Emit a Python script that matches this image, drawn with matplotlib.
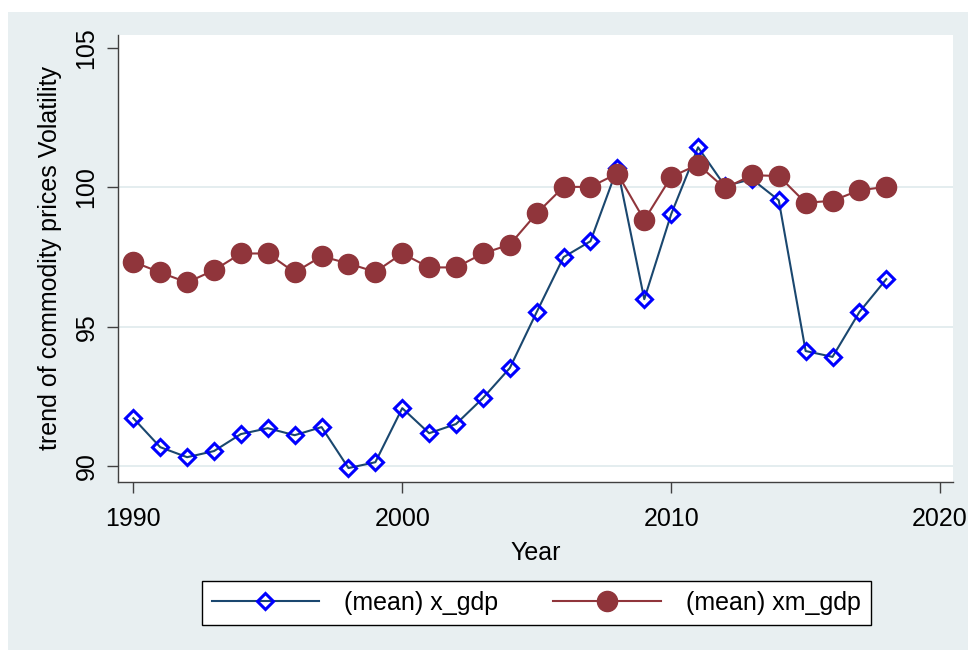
import matplotlib
matplotlib.use("Agg")
import matplotlib.pyplot as plt
from matplotlib.patches import Rectangle
from matplotlib.lines import Line2D

plt.rcParams['font.family'] = ['Liberation Sans', 'DejaVu Sans']

years = list(range(1990, 2019))
x_gdp = [91.72, 90.68, 90.32, 90.54, 91.15, 91.36, 91.11, 91.40, 89.93, 90.14,
         92.08, 91.18, 91.51, 92.44, 93.52, 95.53, 97.50, 98.07, 100.70, 95.99,
         99.04, 101.44, 100.05, 100.30, 99.54, 94.13, 93.92, 95.53, 96.71]
xm_gdp = [97.33, 96.95, 96.59, 97.03, 97.63, 97.63, 96.95, 97.53, 97.27, 96.97,
          97.63, 97.13, 97.13, 97.63, 97.95, 99.07, 100.02, 100.02, 100.50, 98.83,
          100.38, 100.82, 99.97, 100.44, 100.41, 99.45, 99.52, 99.90, 100.02]
labels = ["(mean) x_gdp", "(mean) xm_gdp"]
xticks = [1990, 2000, 2010, 2020]
yticks = [90, 95, 100, 105]
gridvals = [90, 95, 100]

W, H = 968, 650
fig = plt.figure(figsize=(W / 100, H / 100), dpi=100, facecolor='white')
bg = '#E8EFF1'
fig.patches.append(Rectangle((8 / W, 0), (W - 8) / W, (H - 12) / H,
                             transform=fig.transFigure, facecolor=bg,
                             edgecolor='none', zorder=-10))

ax = fig.add_axes([118 / W, 1 - 482 / H, (953 - 118) / W, (482 - 35) / H])
ax.set_facecolor('white')

navy = '#1A476F'
blue = '#0000FF'
maroon = '#90353B'

for g in gridvals:
    ax.axhline(g, color='#E4EDEF', lw=1.4, zorder=1)

ax.plot(years, x_gdp, color=navy, lw=1.5, marker='D', markersize=8.5,
        markerfacecolor='none', markeredgecolor=blue, markeredgewidth=2.2,
        zorder=3)
ax.plot(years, xm_gdp, color=maroon, lw=1.5, marker='o', markersize=14.5,
        markerfacecolor=maroon, markeredgecolor=maroon, zorder=4)

ax.set_xlim(1989.43, 2020.48)
ax.set_ylim(89.43, 105.47)
ax.set_xticks(xticks)
ax.set_yticks(yticks)
ax.set_yticklabels([str(v) for v in yticks], rotation=90, va='center')

for s in ['top', 'right']:
    ax.spines[s].set_visible(False)
for s in ['left', 'bottom']:
    ax.spines[s].set_color('#404040')
    ax.spines[s].set_linewidth(1.0)

ax.tick_params(axis='both', direction='out', length=8, width=1.0,
               color='#404040', labelsize=18, labelcolor='black')
ax.tick_params(axis='x', pad=10)
ax.tick_params(axis='y', pad=6)

ax.set_xlabel('Year', fontsize=18, labelpad=7)
ax.set_ylabel('trend of commodity prices Volatility', fontsize=18, labelpad=9)

handles = [
    Line2D([], [], color=navy, lw=1.5, marker='D', markersize=8.5,
           markerfacecolor='none', markeredgecolor=blue, markeredgewidth=2.2),
    Line2D([], [], color=maroon, lw=1.5, marker='o', markersize=14.5,
           markerfacecolor=maroon, markeredgecolor=maroon),
]
leg = fig.legend(handles, labels, loc='center',
                 bbox_to_anchor=(536 / W, 1 - 603 / H), ncol=2,
                 fontsize=18, frameon=True, fancybox=False,
                 edgecolor='black', facecolor='white', framealpha=1,
                 handlelength=4.3, columnspacing=2.2, handletextpad=1.0,
                 borderpad=0.4)
leg.get_frame().set_linewidth(1.0)

fig.savefig('out.png', dpi=100, facecolor='white')
